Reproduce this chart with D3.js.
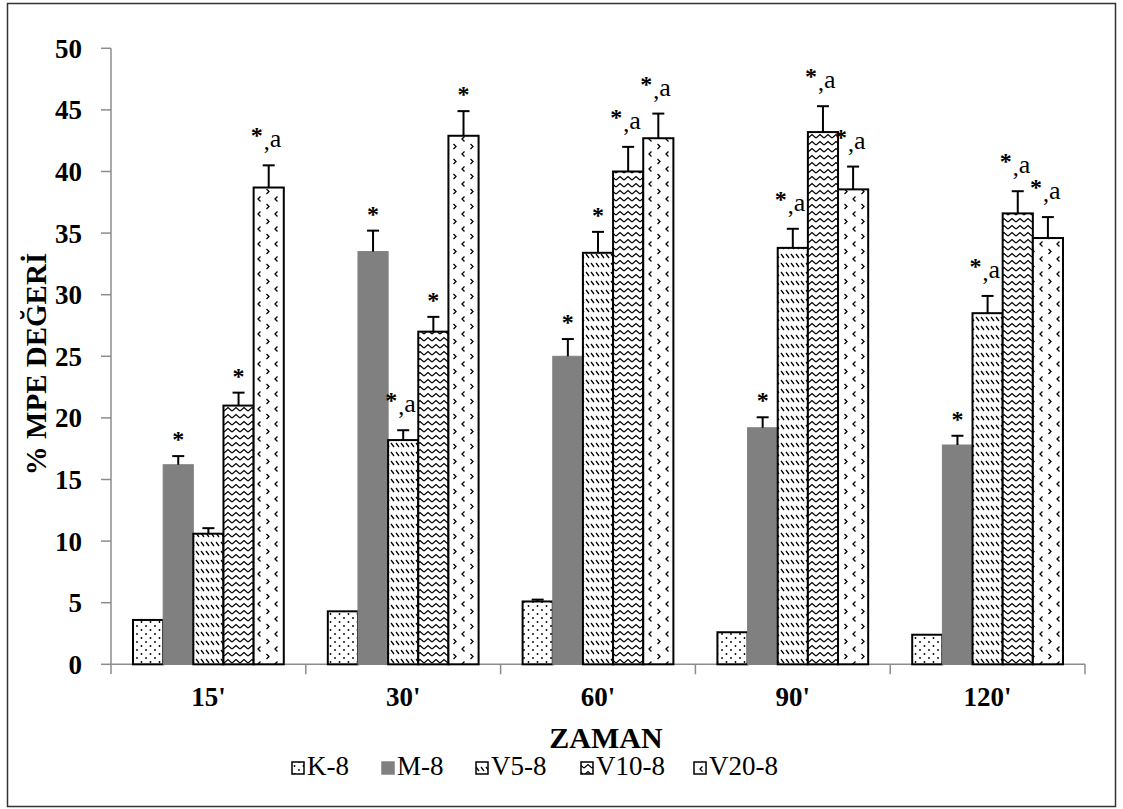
<!DOCTYPE html>
<html>
<head>
<meta charset="utf-8">
<script src="https://cdn.jsdelivr.net/npm/d3@7"></script>
<style>
  body { margin: 0; background: #fff; }
  svg text { font-family: "Liberation Serif", "Times New Roman", serif; fill: #000; }
</style>
</head>
<body>
<svg id="chart" width="1123" height="809"></svg>
<script>
// categories and series
var categories = ["15'", "30'", "60'", "90'", "120'"];
var seriesNames = ["K-8", "M-8", "V5-8", "V10-8", "V20-8"];

// mean values per series (one per category)
var k8 = [3.6, 4.3, 5.1, 2.6, 2.4];
var m8 = [16.2, 33.5, 25.0, 19.2, 17.8];
var v5 = [10.6, 18.2, 33.4, 33.8, 28.5];
var v10 = [21.0, 27.0, 40.0, 43.2, 36.6];
var v20 = [38.7, 42.9, 42.7, 38.55, 34.6];

// error bar sizes
var k8Err = [0, 0, 0.15, 0, 0];
var m8Err = [0.7, 1.7, 1.4, 0.85, 0.75];
var v5Err = [0.45, 0.8, 1.7, 1.55, 1.4];
var v10Err = [1.05, 1.2, 2.0, 2.1, 1.8];
var v20Err = [1.8, 2.0, 2.0, 1.85, 1.7];

// significance marks
var k8Sig = ["", "", "", "", ""];
var m8Sig = ["*", "*", "*", "*", "*"];
var v5Sig = ["", "*,a", "*", "*,a", "*,a"];
var v10Sig = ["*", "*", "*,a", "*,a", "*,a"];
var v20Sig = ["*,a", "*", "*,a", "*,a", "*,a"];

var yTicks = [0, 5, 10, 15, 20, 25, 30, 35, 40, 45, 50];

var values = [k8, m8, v5, v10, v20];
var errors = [k8Err, m8Err, v5Err, v10Err, v20Err];
var sigs = [k8Sig, m8Sig, v5Sig, v10Sig, v20Sig];

var rows = [];
categories.forEach(function (c, ci) {
    seriesNames.forEach(function (s, si) {
        rows.push({ cat: c, series: s, si: si, value: values[si][ci], err: errors[si][ci], sig: sigs[si][ci] });
    });
});

var svg = d3.select("#chart");

// outer frame
svg.append("rect")
    .attr("x", 7.5).attr("y", 3.5)
    .attr("width", 1108).attr("height", 803)
    .attr("fill", "none")
    .attr("stroke", "#333")
    .attr("stroke-width", 1.5);

// patterns
var defs = svg.append("defs");

var pDots = defs.append("pattern").attr("id", "pat0")
    .attr("patternUnits", "userSpaceOnUse").attr("width", 9).attr("height", 8);
pDots.append("rect").attr("width", 9).attr("height", 8).attr("fill", "#fff");
pDots.append("circle").attr("cx", 2).attr("cy", 2).attr("r", 0.9).attr("fill", "#000");
pDots.append("circle").attr("cx", 6.5).attr("cy", 6).attr("r", 0.9).attr("fill", "#000");

var pSlash = defs.append("pattern").attr("id", "pat2")
    .attr("patternUnits", "userSpaceOnUse").attr("width", 5).attr("height", 9);
pSlash.append("rect").attr("width", 5).attr("height", 9).attr("fill", "#fff");
pSlash.append("path").attr("d", "M1,2 L4,6").attr("stroke", "#000").attr("stroke-width", 1.3);

var pWave = defs.append("pattern").attr("id", "pat3")
    .attr("patternUnits", "userSpaceOnUse").attr("width", 8).attr("height", 7);
pWave.append("rect").attr("width", 8).attr("height", 7).attr("fill", "#fff");
pWave.append("path").attr("d", "M0,5 L4,1.5 L8,5").attr("fill", "none").attr("stroke", "#000").attr("stroke-width", 1.3);

var pChev = defs.append("pattern").attr("id", "pat4")
    .attr("patternUnits", "userSpaceOnUse").attr("width", 17).attr("height", 15);
pChev.append("rect").attr("width", 17).attr("height", 15).attr("fill", "#fff");
pChev.append("path").attr("d", "M5.5,1.5 L3,4 L5.5,6.5").attr("fill", "none").attr("stroke", "#000").attr("stroke-width", 1.3);
pChev.append("path").attr("d", "M11.5,9 L14,11.5 L11.5,14").attr("fill", "none").attr("stroke", "#000").attr("stroke-width", 1.3);

var fills = ["url(#pat0)", "#808080", "url(#pat2)", "url(#pat3)", "url(#pat4)"];
var strokes = ["#000", "#808080", "#000", "#000", "#000"];

// scales
var x0 = d3.scaleBand().domain(categories).range([111, 1085]).padding(0);
var x1 = d3.scaleBand().domain(seriesNames).range([0, x0.bandwidth()]).paddingOuter(0.73).paddingInner(0);
var y = d3.scaleLinear().domain([0, 50]).range([664.3, 48.3]);

// y axis
var yAxis = svg.append("g").attr("transform", "translate(111,0)");
yAxis.append("line").attr("x1", 0).attr("x2", 0).attr("y1", y(50)).attr("y2", 674)
    .attr("stroke", "#8c8c8c").attr("stroke-width", 1.5);
yAxis.selectAll(".tick").data(yTicks).enter().append("line")
    .attr("x1", -10).attr("x2", 0)
    .attr("y1", function (d) { return y(d); }).attr("y2", function (d) { return y(d); })
    .attr("stroke", "#8c8c8c").attr("stroke-width", 1.5);
yAxis.selectAll(".lbl").data(yTicks).enter().append("text")
    .attr("x", -29).attr("y", function (d) { return y(d); })
    .attr("dy", "0.35em")
    .attr("text-anchor", "end")
    .style("font-size", "27px").style("font-weight", "bold")
    .text(function (d) { return d; });

// x axis
svg.append("line").attr("x1", 111).attr("x2", 1085).attr("y1", y(0)).attr("y2", y(0))
    .attr("stroke", "#8c8c8c").attr("stroke-width", 1.5);
svg.selectAll(".xtick").data(categories).enter().append("line")
    .attr("x1", function (d) { return x0(d) + x0.bandwidth(); })
    .attr("x2", function (d) { return x0(d) + x0.bandwidth(); })
    .attr("y1", y(0)).attr("y2", y(0) + 10)
    .attr("stroke", "#8c8c8c").attr("stroke-width", 1.5);
svg.selectAll(".xlbl").data(categories).enter().append("text")
    .attr("x", function (d) { return x0(d) + x0.bandwidth() / 2; })
    .attr("y", 706)
    .attr("text-anchor", "middle")
    .style("font-size", "27px").style("font-weight", "bold")
    .text(function (d) { return d; });

// bars
var bars = svg.append("g");
bars.selectAll("rect").data(rows).enter().append("rect")
    .attr("x", function (d) { return x0(d.cat) + x1(d.series); })
    .attr("y", function (d) { return y(d.value); })
    .attr("width", x1.bandwidth())
    .attr("height", function (d) { return y(0) - y(d.value); })
    .attr("fill", function (d) { return fills[d.si]; })
    .attr("stroke", function (d) { return strokes[d.si]; })
    .attr("stroke-width", function (d) { return d.si === 1 ? 1 : 2; });

// error bars
var errRows = rows.filter(function (d) { return d.err > 0; });
var eb = svg.append("g").attr("stroke", "#000").attr("stroke-width", 2);
errRows.forEach(function (d) {
    var cx = x0(d.cat) + x1(d.series) + x1.bandwidth() / 2;
    eb.append("line").attr("x1", cx).attr("x2", cx)
        .attr("y1", y(d.value)).attr("y2", y(d.value + d.err));
    eb.append("line").attr("x1", cx - 6).attr("x2", cx + 6)
        .attr("y1", y(d.value + d.err)).attr("y2", y(d.value + d.err));
});

// significance labels
var sigRows = rows.filter(function (d) { return d.sig !== ""; });
sigRows.forEach(function (d) {
    var cx = x0(d.cat) + x1(d.series) + x1.bandwidth() / 2;
    var top = y(d.value + d.err);
    if (d.sig === "*") {
        svg.append("text")
            .attr("x", cx).attr("y", top - 9)
            .attr("text-anchor", "middle")
            .style("font-size", "24px").style("font-weight", "bold")
            .text("*");
    } else {
        var t = svg.append("text")
            .attr("x", cx - 18).attr("y", top - 22)
            .style("font-size", "24px");
        t.append("tspan").style("font-weight", "bold").text("*");
        t.append("tspan").attr("dx", 1).attr("dy", 6).text(",");
        t.append("tspan").attr("dy", -2).style("font-size", "26px").text("a");
    }
});

// axis titles
svg.append("text")
    .attr("transform", "translate(46,364) rotate(-90)")
    .attr("text-anchor", "middle")
    .style("font-size", "29px").style("font-weight", "bold")
    .text("% MPE DEĞERİ");

svg.append("text")
    .attr("x", 606).attr("y", 748)
    .attr("text-anchor", "middle")
    .style("font-size", "30px").style("font-weight", "bold")
    .text("ZAMAN");

// legend
var legendX = [292, 382, 476, 581, 694];
var legend = svg.append("g");
seriesNames.forEach(function (s, i) {
    legend.append("rect")
        .attr("x", legendX[i]).attr("y", 762)
        .attr("width", 12).attr("height", 12)
        .attr("fill", fills[i])
        .attr("stroke", strokes[i])
        .attr("stroke-width", 1.5);
    legend.append("text")
        .attr("x", legendX[i] + 15).attr("y", 775)
        .style("font-size", "27px")
        .text(s);
});
</script>
</body>
</html>
